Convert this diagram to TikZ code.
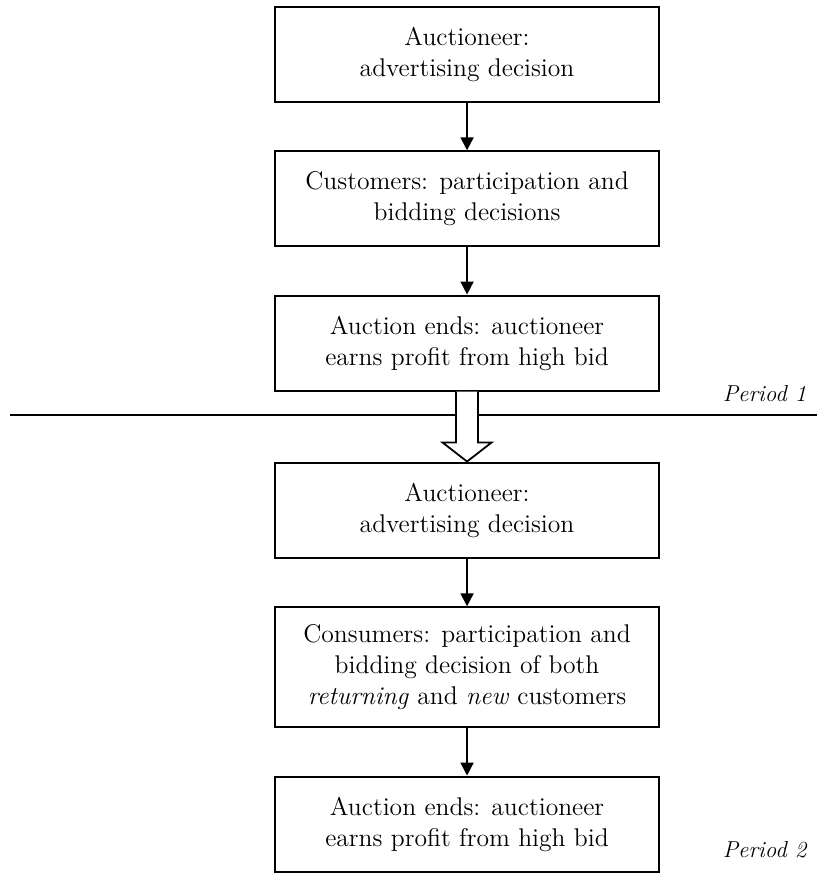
\documentclass[tikz,border=0pt]{standalone}
\usepackage{tikz}
\usetikzlibrary{arrows.meta,positioning}

\begin{document}
\begin{tikzpicture}[>={Triangle[width=6.5pt,length=6.5pt]},
  stage/.style={draw, line width=1pt, minimum width=6.75cm, minimum height=1.67cm, align=center,
    inner sep=0pt, font=\fontsize{12.8pt}{15.5pt}\selectfont},
  arr/.style={->, line width=0.9pt},
  per/.style={anchor=base east, inner sep=0pt, font=\fontsize{11.5pt}{13pt}\selectfont\itshape}]
\useasboundingbox (0,0) rectangle (14.36,-15.68);

% Period 1
\node[stage] (adv1) at (8.21,-0.96) {Auctioneer:\\advertising decision};
\node[stage, below=0.83cm of adv1] (bid1) {Customers: participation and\\bidding decisions};
\node[stage, below=0.83cm of bid1] (end1) {Auction ends: auctioneer\\earns profit from high bid};

% Period 2
\node[stage, below=1.23cm of end1] (adv2) {Auctioneer:\\advertising decision};
\node[stage, minimum height=2.11cm, below=0.84cm of adv2] (bid2) {Consumers: participation and\\bidding decision of both\\\textit{returning} and \textit{new} customers};
\node[stage, below=0.83cm of bid2] (end2) {Auction ends: auctioneer\\earns profit from high bid};

% Arrows
\draw[arr] (adv1) -- (bid1);
\draw[arr] (bid1) -- (end1);
\draw[arr] (adv2) -- (bid2);
\draw[arr] (bid2) -- (end2);

% Divider and period labels
\coordinate (divl) at (0.18,-7.29);
\coordinate (divr) at (14.36,-7.29);
\draw[line width=0.9pt] (divl) -- (divr);
\node[per] (p1) at (14.18,-7.05) {Period 1};
\node[per] (p2) at (14.18,-15.08) {Period 2};

% Hollow arrow between periods
\draw[line width=0.9pt, fill=white] ([xshift=-5.5pt]end1.south) -- ([xshift=-5.5pt,yshift=9.5pt]adv2.north)
  -- ([xshift=-12.25pt,yshift=9.5pt]adv2.north) -- (adv2.north)
  -- ([xshift=12.25pt,yshift=9.5pt]adv2.north) -- ([xshift=5.5pt,yshift=9.5pt]adv2.north)
  -- ([xshift=5.5pt]end1.south);
\end{tikzpicture}
\end{document}
